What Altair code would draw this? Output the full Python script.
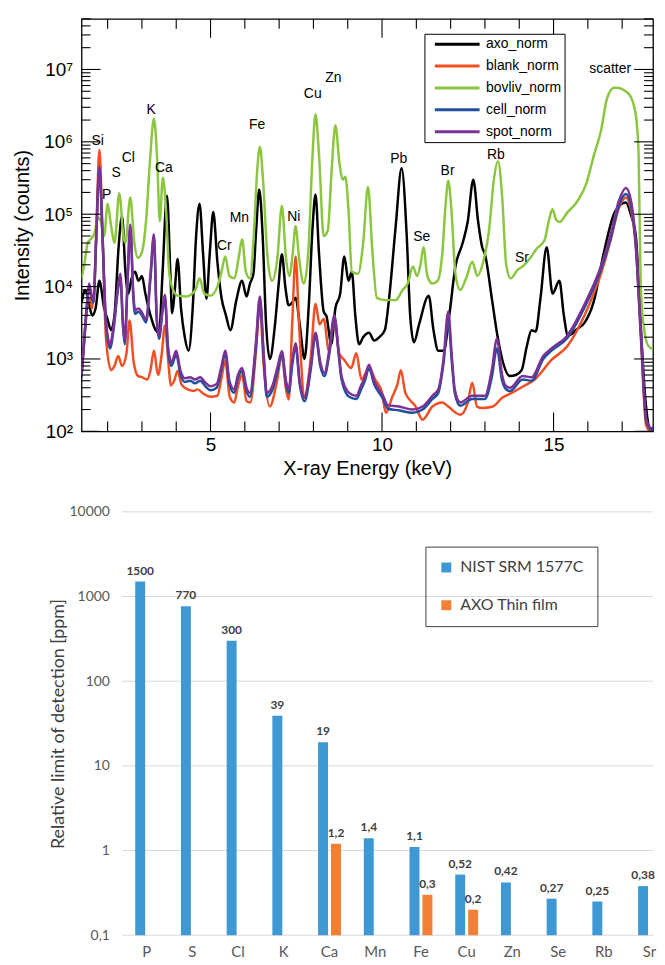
import altair as alt
import pandas as pd

F1 = "Liberation Sans"
F2 = "Lato"

# ---------------- top panel: XRF spectra ----------------
series_names = ["axo_norm", "blank_norm", "bovliv_norm", "cell_norm", "spot_norm"]
series_colors = ["#000000", "#f04e23", "#8cc63f", "#1f4f9f", "#7b3294"]

axo_kev = [1.24,1.35,1.45,1.55,1.65,1.76,1.9,2.0,2.1,2.2,2.32,2.42,2.52,2.6,2.7,2.8,2.9,3.0,3.1,3.25,3.4,3.5,3.6,3.73,3.83,3.88,3.95,4.04,4.14,4.25,4.36,4.48,4.58,4.68,4.78,4.88,4.98,5.08,5.2,5.32,5.45,5.58,5.75,5.92,6.05,6.15,6.25,6.33,6.42,6.52,6.62,6.73,6.88,6.98,7.08,7.18,7.28,7.38,7.48,7.6,7.74,7.86,7.97,8.06,8.16,8.3,8.38,8.52,8.64,8.78,8.9,9.02,9.12,9.22,9.33,9.45,9.62,9.77,9.92,10.08,10.22,10.4,10.57,10.72,10.82,10.93,11.08,11.36,11.5,11.64,11.8,11.96,12.14,12.35,12.5,12.66,12.8,12.92,13.0,13.21,13.35,13.5,13.73,13.9,14.07,14.22,14.36,14.48,14.62,14.8,14.97,15.17,15.3,15.42,15.69,15.89,16.18,16.47,16.8,17.11,17.25,17.4,17.54,17.65,17.8,17.9,18.0]
axo_counts = [6e3,9e3,6e3,4e3,5e3,1.2e4,5e3,3.5e3,2.5e3,4e3,3.5e4,9.4e4,1.6e4,8e3,1.3e4,1.6e4,1.2e4,1.4e4,8e3,4e3,2.5e3,2.3e3,1.5e4,1.8e5,1.5e4,4.3e3,8e3,2.4e4,5e3,2e3,1.3e3,5e3,5e4,1.4e5,3e4,6.8e3,3e4,1.07e5,2.2e4,7e3,4e3,2.5e3,6.4e3,1.2e4,7.3e3,1.1e4,1.5e4,6e4,2.2e5,5e4,3e3,1e3,3e3,1e4,2.8e4,1e4,5.5e3,6e3,7e3,3e3,1e3,5e3,6e4,1.87e5,3e4,4.5e3,3.9e3,1.6e3,5e3,8e3,2.6e4,1.2e4,1.6e4,4e3,1.6e3,2e3,2.3e3,1.8e3,2e3,2.5e3,8e3,7e4,4.3e5,5e4,4e3,1.7e3,3e3,7.5e3,2.5e3,1.3e3,1.3e3,4e3,1.9e4,4e4,8e4,3e5,8e4,3.5e4,2.8e4,6.4e3,2.3e3,1e3,580,600,700,1.5e3,2.5e3,2.4e3,7e3,3.5e4,8e3,1.2e4,4e3,2.1e3,2.6e3,3.1e3,6.4e3,3e4,1.1e5,1.45e5,1e5,4.9e4,3e3,400,110,100,160]

blank_kev = [1.24,1.32,1.41,1.47,1.54,1.62,1.68,1.76,1.85,1.95,2.1,2.2,2.31,2.42,2.55,2.64,2.76,2.89,3.0,3.15,3.25,3.35,3.47,3.58,3.67,3.78,3.84,3.94,4.04,4.15,4.25,4.5,4.62,4.8,5.0,5.2,5.32,5.43,5.56,5.69,5.8,5.92,6.05,6.16,6.32,6.44,6.55,6.73,6.92,7.08,7.2,7.28,7.38,7.48,7.58,7.74,7.92,8.06,8.18,8.3,8.45,8.61,8.75,8.9,9.1,9.25,9.4,9.62,9.8,10.0,10.11,10.3,10.45,10.55,10.68,10.98,11.18,11.47,11.76,11.93,12.28,12.5,12.63,12.77,12.92,13.23,13.5,13.78,14.16,14.45,14.94,15.4,15.89,16.38,16.67,16.9,17.11,17.25,17.4,17.55,17.7,17.83,18.0]
blank_counts = [600,1.8e3,5.8e3,7e3,5e3,1.2e4,8e4,7.8e5,6e4,2e3,700,800,1.1e3,800,1.2e3,3.4e3,900,580,560,520,700,1.3e3,600,1.2e3,2.9e3,800,430,500,680,450,400,360,380,330,300,310,550,940,300,250,420,600,260,250,1.2e3,5.5e3,800,220,450,1.1e3,380,275,3e3,2.6e4,3e3,310,1e3,5.8e3,3e3,3.6e3,1.3e3,3.5e3,1.2e3,970,750,1.2e3,520,750,520,340,180,300,450,700,340,220,145,220,250,220,170,250,470,220,210,220,290,340,430,520,970,1.5e3,3.9e3,1.5e4,4.5e4,1.2e5,1.7e5,1.2e5,3.5e4,1.8e3,120,100,110]

bovliv_kev = [1.24,1.32,1.42,1.52,1.62,1.72,1.8,1.9,2.0,2.1,2.2,2.34,2.46,2.52,2.66,2.78,2.88,3.0,3.12,3.24,3.35,3.45,3.52,3.61,3.7,3.8,3.92,4.04,4.3,4.55,4.68,4.82,5.0,5.2,5.32,5.43,5.55,5.7,5.82,5.92,6.03,6.15,6.27,6.36,6.44,6.53,6.65,6.79,6.95,7.08,7.2,7.3,7.4,7.48,7.58,7.72,7.85,7.97,8.06,8.16,8.3,8.42,8.53,8.64,8.76,8.86,8.93,9.02,9.12,9.3,9.45,9.59,9.72,9.85,10.1,10.4,10.6,10.75,10.9,11.02,11.12,11.21,11.32,11.47,11.62,11.76,11.85,11.93,12.02,12.14,12.28,12.45,12.63,12.78,12.95,13.12,13.26,13.38,13.5,13.62,13.75,13.95,14.1,14.3,14.5,14.74,14.86,14.97,15.07,15.17,15.4,15.69,15.95,16.18,16.38,16.56,16.76,16.85,17.1,17.25,17.34,17.43,17.48,17.54,17.63,17.77,18.0]
bovliv_counts = [1.3e4,2e4,4e4,4.6e4,5.5e4,9e4,8e4,5e4,1.4e5,7e4,4e4,1.95e5,5e4,4e4,1.7e5,4e4,2.5e4,3e4,8e4,6e5,2.1e6,5e5,8e4,3.2e5,1.2e5,1.5e4,8.8e3,7.5e3,7.3e3,8.8e3,1.3e4,8e3,7.5e3,1e4,1.6e4,2.6e4,1.4e4,1.3e4,2.5e4,4.5e4,1.6e4,1.3e4,6e4,4e5,8.5e5,3e5,3e4,1.2e4,2.5e4,1.3e5,2.5e4,1.4e4,3e4,6.9e4,2.5e4,1.1e4,3e4,6e5,2.4e6,7e5,5e4,6e4,4e5,1.7e6,5e5,3e5,3.3e5,1.2e5,1.6e4,1.5e4,4e4,2.4e5,3e4,7e3,6.5e3,6.5e3,9e3,1.1e4,1.9e4,1.4e4,2e4,3.5e4,1.4e4,1.1e4,1.2e4,3e4,1.3e5,2.9e5,1.2e5,1.5e4,9e3,1.3e4,2.2e4,1.4e4,2.2e4,6e4,3e5,5.4e5,1.8e5,2e4,1.3e4,1.7e4,1.9e4,2.4e4,3.3e4,4.4e4,8e4,1.17e5,8.5e4,7.8e4,1.05e5,1.5e5,2.6e5,6.6e5,1.4e6,4e6,5.6e6,5.6e6,5e6,4.2e6,3.2e6,1.7e6,6.6e5,1.1e4,2.8e3,1.5e3,1.3e3]

cell_kev = [1.24,1.32,1.4,1.46,1.52,1.59,1.66,1.76,1.86,1.95,2.07,2.18,2.3,2.37,2.45,2.5,2.58,2.66,2.75,2.8,2.9,3.0,3.12,3.25,3.35,3.43,3.5,3.6,3.67,3.76,3.86,4.0,4.12,4.25,4.4,4.55,4.7,4.85,5.0,5.18,5.32,5.43,5.55,5.69,5.8,5.92,6.05,6.15,6.32,6.44,6.55,6.64,6.8,6.96,7.08,7.2,7.28,7.38,7.48,7.6,7.74,7.92,8.06,8.2,8.32,8.46,8.61,8.74,8.82,9.04,9.25,9.38,9.5,9.62,9.77,10.03,10.17,10.49,10.89,11.18,11.47,11.64,11.79,11.93,12.04,12.12,12.28,12.63,13.0,13.2,13.35,13.5,13.6,13.73,14.1,14.36,14.7,14.94,15.4,15.89,16.38,16.67,16.9,17.11,17.25,17.4,17.55,17.7,17.86,18.0]
cell_counts = [560,1.8e3,5.5e3,1e4,7.5e3,6e3,3.6e4,4.2e5,3.6e4,3.2e3,1.4e3,2.7e3,9e3,1.35e4,2.7e3,1.6e3,1.1e4,6.5e4,7e3,4.2e3,4.5e3,4e3,3.2e3,1.3e4,4.8e4,3.6e3,1.9e3,4.5e3,7e3,1.3e3,800,1.15e3,620,480,500,460,500,420,370,400,720,1.2e3,450,340,540,680,360,300,1.4e3,6.5e3,1.05e3,300,370,700,1.15e3,450,340,800,1.5e3,450,260,700,2.1e3,800,580,1.15e3,3.7e3,1.1e3,520,300,280,370,500,740,450,280,205,195,180,200,280,340,850,3.3e3,850,340,225,280,280,560,1.4e3,500,390,360,520,500,1e3,1.3e3,1.95e3,5e3,1.7e4,4.7e4,1.3e5,1.9e5,1.35e5,3.5e4,2e3,140,105,120]

spot_kev = cell_kev
spot_counts = [600,2e3,6e3,1.1e4,8e3,6.4e3,4e4,4.6e5,4e4,3.5e3,1.6e3,3e3,1e4,1.5e4,3e3,1.8e3,1.2e4,7.2e4,8e3,4.7e3,5e3,4.4e3,3.5e3,1.5e4,5.3e4,4e3,2.1e3,5e3,7.7e3,1.5e3,900,1.3e3,700,540,560,520,560,470,420,450,800,1.3e3,500,380,600,750,400,340,1.6e3,7.3e3,1.2e3,340,420,800,1.28e3,500,380,900,1.65e3,500,290,800,2.3e3,900,640,1.3e3,4e3,1.2e3,580,340,310,420,560,830,500,310,230,220,200,220,310,380,970,4.5e3,1e3,380,250,310,310,700,1.9e3,600,430,400,580,560,1.1e3,1.4e3,2.1e3,5.5e3,1.9e4,5.3e4,1.5e5,2.3e5,1.6e5,3.9e4,2.3e3,150,110,125]

peak_labels = ["Si","P","S","Cl","K","Ca","Cr","Mn","Fe","Ni","Cu","Zn","Pb","Se","Br","Rb","Sr","scatter"]
peak_kev = [1.71,1.97,2.25,2.60,3.27,3.64,5.40,5.84,6.36,7.43,7.98,8.58,10.49,11.16,11.91,13.32,14.08,16.65]
peak_counts = [1.03e6,1.87e5,3.76e5,6.0e5,2.74e6,4.3e5,3.6e4,8.8e4,1.7e6,9.1e4,4.55e6,7.5e6,5.8e5,4.8e4,3.9e5,6.5e5,2.5e4,1.0e7]

series_data = [("axo_norm", axo_kev, axo_counts), ("blank_norm", blank_kev, blank_counts),
               ("bovliv_norm", bovliv_kev, bovliv_counts), ("cell_norm", cell_kev, cell_counts),
               ("spot_norm", spot_kev, spot_counts)]
rows = []
for name, ks, cs in series_data:
    assert len(ks) == len(cs), (name, len(ks), len(cs))
    for k, c in zip(ks, cs):
        rows.append({"series": name, "kev": k, "counts": c})
spec_df = pd.DataFrame(rows)
ann_df = pd.DataFrame({"label": peak_labels, "kev": peak_kev, "counts": peak_counts})

x_major = [5, 10, 15]
x_minor = [v for v in range(2, 18) if v % 5 != 0]
y_major = [10 ** k for k in range(2, 8)]
y_minor = [m * 10 ** k for k in range(2, 8) for m in range(2, 10) if m * 10 ** k <= 5e7]

W1, H1 = 575, 415
xs = alt.Scale(domain=[1.24, 17.9], nice=False, zero=False)
ys = alt.Scale(type="log", domain=[100, 5e7], nice=False)

sup = "['⁰','¹','²','³','⁴','⁵','⁶','⁷','⁸']"

x_axis1 = alt.Axis(values=x_major, title="X-ray Energy (keV)", ticks=False, domain=False,
                   grid=False, labelFontSize=19, titleFontSize=20, labelPadding=4,
                   titlePadding=4, titleFontWeight="normal", labelFont=F1, titleFont=F1,
                   labelColor="black", titleColor="black")
y_axis1 = alt.Axis(values=y_major, labelExpr="'10' + " + sup + "[round(log(datum.value)/LN10)]",
                   ticks=False, domain=False, grid=False, labelFontSize=19, labelPadding=9,
                   title="Intensity (counts)", titleFontSize=20, titleFont=F1, labelFont=F1,
                   titleFontWeight="normal", titlePadding=11, labelColor="black",
                   titleColor="black")

lines = alt.Chart(spec_df).mark_line(strokeWidth=2.5, interpolate="monotone", clip=True).encode(
    x=alt.X("kev:Q", scale=xs, axis=x_axis1),
    y=alt.Y("counts:Q", scale=ys, axis=y_axis1),
    color=alt.Color("series:N", scale=alt.Scale(domain=series_names, range=series_colors),
                    legend=alt.Legend(title=None, orient="none", legendX=345, legendY=15, symbolType="M0,0H7.5",
                                      symbolSize=144, symbolStrokeWidth=3, labelFontSize=14, labelFont=F1,
                                      labelColor="black", strokeColor="black", fillColor="white", padding=3,
                                      rowPadding=7, labelOffset=44, cornerRadius=0)),
)

def xtick(vals, y0, y1):
    return alt.Chart(pd.DataFrame({"v": vals})).mark_rule(color="black", strokeWidth=1.1).encode(
        x=alt.X("v:Q", scale=xs, axis=x_axis1), y=alt.value(y0), y2=alt.value(y1))

def ytick(vals, x0, x1):
    return alt.Chart(pd.DataFrame({"v": vals})).mark_rule(color="black", strokeWidth=1.1).encode(
        y=alt.Y("v:Q", scale=ys, axis=y_axis1), x=alt.value(x0), x2=alt.value(x1))

ticks = [
    xtick(x_minor, H1, H1 - 10), xtick(x_major, H1, H1 - 19),
    xtick(x_minor, 0, 10), xtick(x_major, 0, 19),
    ytick(y_minor, 0, 9), ytick(y_major, 0, 19),
    ytick(y_minor, W1 - 9, W1), ytick(y_major, W1 - 19, W1),
]

ann = alt.Chart(ann_df).mark_text(fontSize=14, font=F1, color="black").encode(
    x=alt.X("kev:Q", scale=xs, axis=x_axis1), y=alt.Y("counts:Q", scale=ys, axis=y_axis1), text="label:N")

top = alt.layer(lines, *ticks, ann).properties(
    width=W1, height=H1, view=alt.ViewBackground(stroke="black", strokeWidth=1.3))

# ---------------- bottom panel: detection limits ----------------
elements = ["P", "S", "Cl", "K", "Ca", "Mn", "Fe", "Cu", "Zn", "Se", "Rb", "Sr"]
nist_values = [1500, 770, 300, 39, 19, 1.4, 1.1, 0.52, 0.42, 0.27, 0.25, 0.38]
nist_labels = ["1500", "770", "300", "39", "19", "1,4", "1,1", "0,52", "0,42", "0,27", "0,25", "0,38"]
axo_elements = ["Ca", "Fe", "Cu"]
axo_values = [1.2, 0.3, 0.2]
axo_labels = ["1,2", "0,3", "0,2"]
bar_series = ["NIST SRM 1577C", "AXO Thin film"]
bar_colors = ["#3d98d3", "#f37f35"]
yb_ticks = [0.1, 1, 10, 100, 1000, 10000]

bar_df = pd.DataFrame(
    [{"element": e, "series": bar_series[0], "value": v, "label": l} for e, v, l in zip(elements, nist_values, nist_labels)]
    + [{"element": e, "series": bar_series[1], "value": v, "label": l} for e, v, l in zip(axo_elements, axo_values, axo_labels)]
)

W2, H2 = 575, 426
xb = alt.X("element:N", sort=elements,
           scale=alt.Scale(domain=elements, range=[52.5, 584.5], paddingInner=0.434, paddingOuter=0),
           axis=alt.Axis(title=None, labelAngle=0, domain=False, ticks=False, labelPadding=9, labelFontSize=15,
                         labelFont=F2, labelColor="#595959"))
xo = alt.XOffset("series:N", sort=bar_series, scale=alt.Scale(domain=bar_series, paddingInner=0, paddingOuter=0))
yb_scale = alt.Scale(type="log", domain=[0.1, 10000], nice=False)
y_axis2 = alt.Axis(values=yb_ticks, labelExpr="replace(format(datum.value, '~g'), '.', ',')", offset=-41,
                   domain=False, ticks=False, grid=False, labelPadding=13, labelFontSize=14, labelFont=F2,
                   labelColor="#595959", title="Relative limit of detection [ppm]", titleFontSize=18,
                   titleFont=F2, titleFontWeight="normal", titleColor="#404040", titlePadding=2)

grid = alt.Chart(pd.DataFrame({"v": yb_ticks})).mark_rule(color="#d9d9d9", strokeWidth=1).encode(
    y=alt.Y("v:Q", scale=yb_scale, axis=y_axis2), x=alt.value(41), x2=alt.value(W2))

bars = alt.Chart(bar_df).mark_bar(size=10).encode(
    x=xb, xOffset=xo,
    y=alt.Y("value:Q", scale=yb_scale, axis=y_axis2),
    y2=alt.Y2Datum(0.1),
    color=alt.Color("series:N", scale=alt.Scale(domain=bar_series, range=bar_colors),
                    legend=alt.Legend(title=None, orient="none", legendX=346, legendY=35, symbolType="square",
                                      symbolSize=100, labelFontSize=16, labelFont=F2, labelColor="#404040",
                                      strokeColor="#404040", padding=13, rowPadding=22, labelOffset=6,
                                      cornerRadius=0)),
)

bar_text = alt.Chart(bar_df).mark_text(font=F2, fontSize=12, fontWeight="bold", color="#404040",
                                       baseline="bottom", dy=-4).encode(
    x=xb, xOffset=xo, y=alt.Y("value:Q", scale=yb_scale, axis=y_axis2), text="label:N")

bottom = alt.layer(grid, bars, bar_text).properties(
    width=W2, height=H2, view=alt.ViewBackground(stroke="transparent"))

chart = alt.vconcat(top, bottom, spacing=25).resolve_scale(
    color="independent", x="independent", y="independent").resolve_legend(color="independent").properties(
    padding={"left": 4, "top": 6, "right": 0, "bottom": 0})

chart.save("out.html", embed_options={"renderer": "svg", "actions": False})
